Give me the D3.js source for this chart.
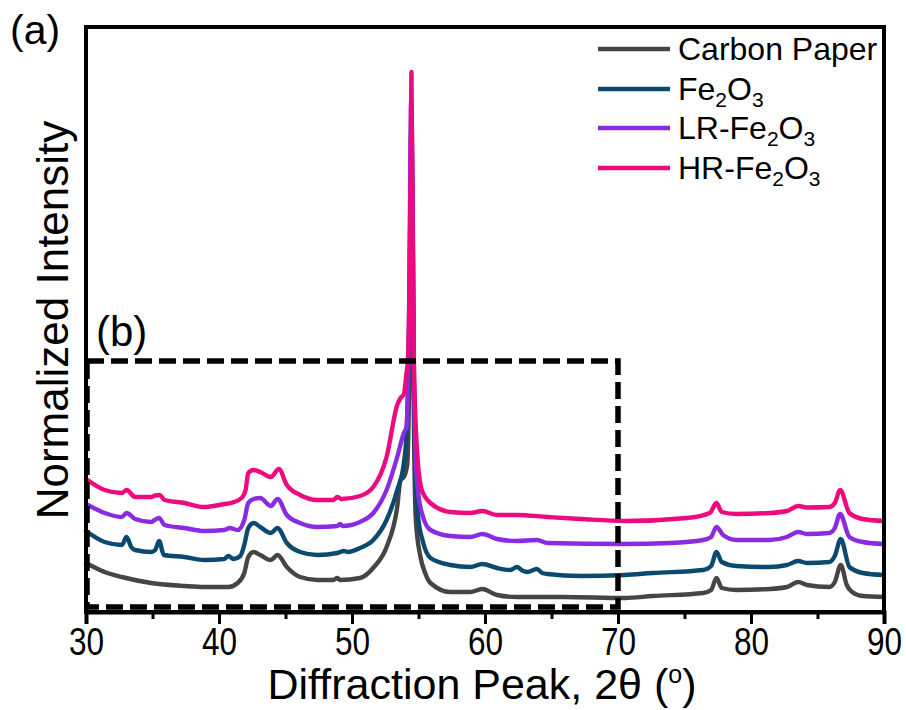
<!DOCTYPE html>
<html>
<head>
<meta charset="utf-8">
<script src="https://cdn.jsdelivr.net/npm/d3@7/dist/d3.min.js"></script>
<style>
  html, body { margin: 0; padding: 0; background: #fff; }
  svg { display: block; font-family: "Liberation Sans", Arial, sans-serif; }
</style>
</head>
<body>
<svg id="chart" width="906" height="710"></svg>
<script>
// ---- data (2θ in degrees, normalized intensity in arbitrary offset units) ----
const seriesNames = ["Carbon Paper", "Fe2O3", "LR-Fe2O3", "HR-Fe2O3"];
const seriesColors = ["#454545", "#0b4a6f", "#8a2be2", "#ec0a7e"];

const carbonPaper = [
  [30,50],[31.4,41],[32.7,36],[34.9,30],[37.4,27],[38.9,26],[40.7,26],[41.4,30],[41.9,40],
  [42.2,56],[42.6,61],[43.1,58],[43.9,53],[44.4,58],[45.1,46],[46.1,36],[47.4,33],[48.6,33],
  [48.9,35],[49.1,33],[50.6,35],[51.65,46],[52.6,66],[53.4,106],[53.65,133],[53.9,136],
  [54.15,148],[54.3,233],[54.4,363],[54.47,453],[54.55,353],[54.65,193],[54.8,93],[55.15,56],
  [55.5,40],[55.9,30],[57.4,21],[58.9,21],[59.8,24],[60.9,18],[62.4,16],[65.9,16],[70.5,15],
  [72.6,17],[76.4,20],[77.0,23],[77.4,35],[77.8,25],[78.9,23],[81.4,24],[82.7,26],[83.55,31],
  [84.2,28],[85.9,26],[86.3,31],[86.75,48],[87.2,28],[87.6,21],[88.4,17],[90,16]
];

const fe2o3 = [
  [30,82],[31.4,71],[32.7,68],[33.05,76],[33.4,66],[33.7,63],[34.9,61],[35.2,63],[35.5,72],
  [35.85,58],[37.4,56],[38.9,53],[40.4,54],[40.7,57],[41.1,54],[41.6,57],[41.9,68],[42.2,85],
  [42.6,90],[43.1,86],[43.9,80],[44.4,85],[45.1,70],[46.1,61],[47.4,58],[48.9,60],[49.4,62],
  [49.7,61],[50.6,65],[51.6,73],[52.6,93],[53.4,123],[53.9,150],[54.1,180],[54.3,283],
  [54.45,483],[54.55,413],[54.65,233],[54.8,133],[55.0,93],[55.3,73],[55.9,55],[57.4,48],
  [58.9,46],[59.8,49],[60.9,45],[61.9,43],[62.4,46],[62.8,42.5],[63.2,41],[63.9,44],[64.3,40],
  [64.7,39],[67.2,37],[70.5,38],[72.6,40],[76.4,43],[77.0,47],[77.4,61],[77.8,51],[78.9,47],
  [81.4,46],[82.7,48],[83.55,52],[84.2,50],[85.9,51],[86.3,57],[86.75,74],[87.4,46],[88.4,40],
  [90,38]
];

const lrFe2o3 = [
  [30,109],[31.4,100],[32.7,96],[33.05,100],[33.7,94],[34.9,91],[35.1,92.5],[35.5,95],[35.9,88],
  [37.4,85],[38.9,82],[40.4,83],[40.8,85],[41.4,83],[41.9,93],[42.2,110],[42.6,114],[43.1,115],
  [43.9,107],[44.4,114],[45.1,98],[46.1,90],[47.4,86],[48.9,87],[49.1,89],[49.3,87],[50.6,91],
  [51.6,100],[52.6,123],[53.4,156],[53.9,180],[54.1,186],[54.3,313],[54.45,513],[54.55,433],
  [54.65,253],[54.8,153],[55.0,118],[55.3,98],[55.9,83],[57.4,77],[58.9,76],[59.8,79],
  [60.9,74],[62.4,72],[63.9,73],[64.7,70],[70.5,69],[73.9,70],[76.4,73],[77.0,76],[77.4,86],
  [77.9,78],[78.9,73],[81.4,73],[82.7,76],[83.55,81],[84.2,79],[85.9,80],[86.3,85],[86.7,99],
  [87.4,76],[88.4,71],[90,69]
];

const hrFe2o3 = [
  [30,134],[31.4,123],[32.7,120],[33.05,123],[33.7,116],[34.9,116],[35.2,117.5],[35.55,118],
  [35.9,113],[37.4,110],[38.9,106],[40.4,109],[40.9,110],[41.7,115],[42.0,123],[42.2,140],
  [42.6,143],[43.1,141],[43.9,136],[44.5,144],[45.1,128],[46.1,118],[47.4,113],[48.6,113],
  [48.9,116],[49.2,114],[50.6,117],[51.6,126],[52.6,156],[53.4,208],[53.65,215],[53.9,219],
  [54.1,240],[54.2,253],[54.32,320],[54.42,440],[54.47,541],[54.52,440],[54.58,353],[54.65,253],
  [54.8,185],[55.0,143],[55.2,125],[55.5,116],[55.9,110],[57.4,101],[58.9,100],[59.8,102],
  [60.9,98],[62.4,98],[64.7,96],[67.2,94],[70.5,92],[75.2,95],[76.9,100],[77.4,110],[77.8,101],
  [78.9,99],[81.4,100],[82.7,102],[83.55,107],[84.2,105.5],[85.9,106],[86.3,110],[86.7,123],
  [87.4,100],[88.4,94],[90,92]
];

const xMajorTicks = [30, 40, 50, 60, 70, 80, 90];
const xMinorTicks = [35, 45, 55, 65, 75, 85];
const insetRange = [30, 70];        // dashed region (b), in degrees
const insetTop = 252;               // dashed region (b) top, intensity units

(function () {
// ---- layout ----
const svg = d3.select("#chart");
const pLeft = 86, pRight = 884, pTop = 27, pBottom = 612;

const x = d3.scaleLinear().domain([30, 90]).range([pLeft, pRight]);
const y = d3.scaleLinear().domain([0, 586]).range([613, 27]);

const allSeries = [carbonPaper, fe2o3, lrFe2o3, hrFe2o3];

const line = d3.line()
  .x(d => x(d[0]))
  .y(d => y(d[1]))
  .curve(d3.curveMonotoneX);

svg.append("g").selectAll("path")
  .data(allSeries)
  .join("path")
  .attr("d", d => line(d))
  .attr("fill", "none")
  .attr("stroke", (d, i) => seriesColors[i])
  .attr("stroke-width", 4.4)
  .attr("stroke-linejoin", "round")
  .attr("stroke-linecap", "round");

// frame
svg.append("rect")
  .attr("x", pLeft).attr("y", pTop)
  .attr("width", pRight - pLeft).attr("height", pBottom - pTop)
  .attr("fill", "none").attr("stroke", "#000").attr("stroke-width", 4);

// dashed inset box (b)
svg.append("rect")
  .attr("x", x(insetRange[0]) + 1)
  .attr("y", y(insetTop))
  .attr("width", x(insetRange[1]) - x(insetRange[0]) - 1)
  .attr("height", 607 - y(insetTop))
  .attr("fill", "none")
  .attr("stroke", "#000")
  .attr("stroke-width", 5.5)
  .attr("stroke-dasharray", "17,7");

// x axis
const xAxis = d3.axisBottom(x)
  .tickValues(xMajorTicks)
  .tickSize(12)
  .tickPadding(4)
  .tickFormat(d3.format("d"));
const gx = svg.append("g").attr("transform", `translate(0,${pBottom})`).call(xAxis);
gx.select(".domain").attr("stroke-width", 4);
gx.selectAll(".tick line").attr("stroke-width", 3);
gx.selectAll(".tick text")
  .attr("font-size", 38)
  .attr("font-family", "'Liberation Sans', Arial, sans-serif")
  .attr("transform", "scale(0.83,1)")
  .attr("fill", "#000");

const xMinor = d3.axisBottom(x).tickValues(xMinorTicks).tickSize(7).tickFormat("");
const gm = svg.append("g").attr("transform", `translate(0,${pBottom})`).call(xMinor);
gm.select(".domain").remove();
gm.selectAll(".tick line").attr("stroke-width", 3);

// axis titles
const xt = svg.append("text")
  .attr("x", 482).attr("y", 699)
  .attr("text-anchor", "middle")
  .attr("font-size", 43)
  .attr("fill", "#000");
xt.append("tspan").text("Diffraction Peak, 2θ (");
xt.append("tspan").attr("font-size", 25).attr("dy", -16).text("o");
xt.append("tspan").attr("dy", 16).text(")");

svg.append("text")
  .attr("transform", "translate(68,320) rotate(-90)")
  .attr("text-anchor", "middle")
  .attr("font-size", 44)
  .attr("fill", "#000")
  .text("Normalized Intensity");

// panel labels
svg.append("text").attr("x", 10).attr("y", 44).attr("font-size", 41).text("(a)");
svg.append("text").attr("x", 96).attr("y", 346).attr("font-size", 42).text("(b)");

// legend
const legendY = [49, 89, 128, 168];
const lg = svg.append("g");
seriesNames.forEach((name, i) => {
  lg.append("line")
    .attr("x1", 598).attr("x2", 670)
    .attr("y1", legendY[i]).attr("y2", legendY[i])
    .attr("stroke", seriesColors[i]).attr("stroke-width", 4.5);
  const t = lg.append("text")
    .attr("x", 678).attr("y", legendY[i] + 11)
    .attr("font-size", 32).attr("fill", "#000");
  const m = name.match(/^(.*)Fe2O3$/);
  if (m) {
    t.append("tspan").text(m[1] + "Fe");
    t.append("tspan").attr("font-size", 21).attr("dy", 7).text("2");
    t.append("tspan").attr("dy", -7).text("O");
    t.append("tspan").attr("font-size", 21).attr("dy", 7).text("3");
  } else {
    t.text(name);
  }
});
})();
</script>
</body>
</html>
